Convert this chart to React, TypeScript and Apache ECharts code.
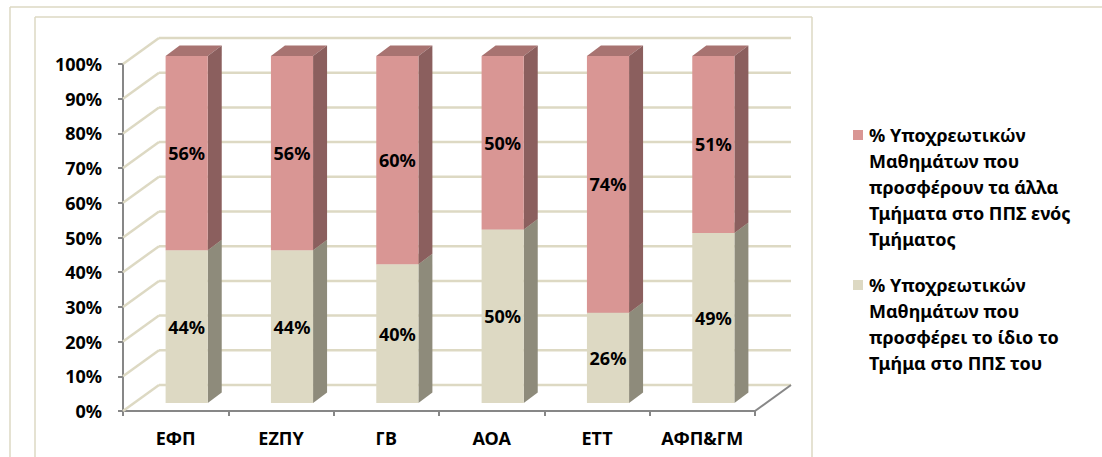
import React, { useEffect, useRef } from "react";
import * as echarts from "echarts";

const categories = ["ΕΦΠ", "ΕΖΠΥ", "ΓΒ", "ΑΟΑ", "ΕΤΤ", "ΑΦΠ&ΓΜ"];
const ownShare = [44, 44, 40, 50, 26, 49];
const otherShare = [56, 56, 60, 50, 74, 51];
const wallTicks = [0, 10, 20, 30, 40, 50, 60, 70, 80, 90, 100];
const otherLegendLines = [
  "% Υποχρεωτικών",
  "Μαθημάτων που",
  "προσφέρουν τα άλλα",
  "Τμήματα στο ΠΠΣ ενός",
  "Τμήματος",
];
const ownLegendLines = [
  "% Υποχρεωτικών",
  "Μαθημάτων που",
  "προσφέρει το ίδιο το",
  "Τμήμα στο ΠΠΣ του",
];

const FONT = '"Noto Sans", "DejaVu Sans", sans-serif';
const WALL = "#DDD9C3";
const AXIS = "#878787";
const DX = 36;
const DY = -26;

function barRenderer(front: string, side: string, top: string) {
  return (params: any, api: any) => {
    const i = api.value(0);
    const lo = api.value(1);
    const hi = api.value(2);
    const pLo = api.coord([i, lo]);
    const pHi = api.coord([i, hi]);
    const band = api.size([1, 0])[0];
    const w = band * 0.4;
    const x0 = pLo[0] - w / 2 + 11;
    const x1 = x0 + w;
    const yLo = pLo[1] - 8;
    const yHi = pHi[1] - 8;
    const dx = 14;
    const dy = -10.5;
    return {
      type: "group",
      children: [
        {
          type: "polygon",
          shape: { points: [[x0, yHi], [x1, yHi], [x1 + dx, yHi + dy], [x0 + dx, yHi + dy]] },
          style: { fill: top },
        },
        {
          type: "polygon",
          shape: { points: [[x1, yHi], [x1 + dx, yHi + dy], [x1 + dx, yLo + dy], [x1, yLo]] },
          style: { fill: side },
        },
        {
          type: "rect",
          shape: { x: x0, y: yHi, width: w, height: yLo - yHi },
          style: { fill: front },
        },
        {
          type: "text",
          style: {
            text: Math.round(hi - lo) + "%",
            x: (x0 + x1) / 2,
            y: (yLo + yHi) / 2,
            align: "center",
            verticalAlign: "middle",
            font: `bold 18px ${FONT}`,
            fill: "#000",
          },
        },
      ],
    };
  };
}

function wallRenderer(params: any, api: any) {
  const v = api.value(1);
  const p = api.coord([0, v]);
  const band = api.size([1, 0])[0];
  const left = p[0] - band / 2;
  const pR = api.coord([categories.length - 1, v]);
  const right = pR[0] + band / 2;
  const y = p[1];
  const children: any[] = [
    {
      type: "line",
      shape: { x1: left, y1: y, x2: left + DX, y2: y + DY },
      style: { stroke: WALL, lineWidth: 2.5 },
    },
    {
      type: "line",
      shape: { x1: left + DX, y1: y + DY, x2: right + DX, y2: y + DY },
      style: { stroke: WALL, lineWidth: 2.5 },
    },
  ];
  if (v === 0) {
    children.push({
      type: "line",
      shape: { x1: right, y1: y, x2: right + DX, y2: y + DY },
      style: { stroke: AXIS, lineWidth: 2 },
    });
  }
  return { type: "group", children };
}

export default function App() {
  const ref = useRef<HTMLDivElement>(null);
  useEffect(() => {
    if (!ref.current) return;
    const chart = echarts.init(ref.current, undefined, { renderer: "svg" });
    const otherName = otherLegendLines.join(" ");
    const ownName = ownLegendLines.join(" ");
    chart.setOption({
      animation: false,
      backgroundColor: "#fff",
      grid: { left: 123, top: 64, width: 632, height: 347 },
      xAxis: {
        type: "category",
        data: categories,
        axisLine: { lineStyle: { color: AXIS, width: 2 } },
        axisTick: { show: true, interval: 0, length: 5, lineStyle: { color: AXIS, width: 2 } },
        axisLabel: {
          interval: 0,
          hideOverlap: false,
          margin: 18,
          fontFamily: FONT,
          fontWeight: "bold",
          fontSize: 18,
          color: "#000",
        },
      },
      yAxis: {
        type: "value",
        min: 0,
        max: 100,
        interval: 10,
        axisLine: { show: true, lineStyle: { color: AXIS, width: 2 } },
        axisTick: { show: true, length: 5, lineStyle: { color: AXIS, width: 2 } },
        splitLine: { show: false },
        axisLabel: {
          formatter: "{value}%",
          margin: 21,
          fontFamily: FONT,
          fontWeight: "bold",
          fontSize: 18,
          color: "#000",
        },
      },
      graphic: [
        { type: "line", shape: { x1: 10, y1: 7, x2: 1102, y2: 7 }, style: { stroke: WALL, lineWidth: 1.5 } },
        { type: "line", shape: { x1: 10, y1: 7, x2: 10, y2: 457 }, style: { stroke: WALL, lineWidth: 1.5 } },
        { type: "line", shape: { x1: 35, y1: 17, x2: 812, y2: 17 }, style: { stroke: WALL, lineWidth: 1.5 } },
        { type: "line", shape: { x1: 35, y1: 17, x2: 35, y2: 457 }, style: { stroke: WALL, lineWidth: 1.5 } },
        { type: "line", shape: { x1: 812, y1: 17, x2: 812, y2: 457 }, style: { stroke: WALL, lineWidth: 1.5 } },
        { type: "rect", shape: { x: 853, y: 130, width: 10, height: 10 }, style: { fill: "#D99694" } },
        {
          type: "text",
          x: 869,
          y: 122,
          style: {
            text: otherLegendLines.join("\n"),
            font: `bold 18px ${FONT}`,
            lineHeight: 26,
            fill: "#000",
          },
        },
        { type: "rect", shape: { x: 853, y: 280, width: 10, height: 10 }, style: { fill: "#DDD9C3" } },
        {
          type: "text",
          x: 869,
          y: 272,
          style: {
            text: ownLegendLines.join("\n"),
            font: `bold 18px ${FONT}`,
            lineHeight: 26,
            fill: "#000",
          },
        },
      ],
      series: [
        {
          type: "custom",
          name: "wall",
          z: 1,
          clip: false,
          silent: true,
          renderItem: wallRenderer,
          encode: { x: 0, y: 1 },
          data: wallTicks.map((v) => [0, v]),
        },
        {
          type: "custom",
          name: ownName,
          z: 3,
          clip: false,
          renderItem: barRenderer("#DDD9C3", "#8E8B7B", "#C4C0AA"),
          encode: { x: 0, y: [1, 2] },
          data: categories.map((_, i) => [i, 0, ownShare[i]]),
        },
        {
          type: "custom",
          name: otherName,
          z: 4,
          clip: false,
          renderItem: barRenderer("#D99694", "#8B5F5E", "#A87371"),
          encode: { x: 0, y: [1, 2] },
          data: categories.map((_, i) => [i, ownShare[i], ownShare[i] + otherShare[i]]),
        },
      ],
    });
    return () => chart.dispose();
  }, []);
  return (
    <div
      ref={ref}
      style={{ position: "absolute", left: 0, top: 0, width: 1102, height: 457 }}
    />
  );
}
